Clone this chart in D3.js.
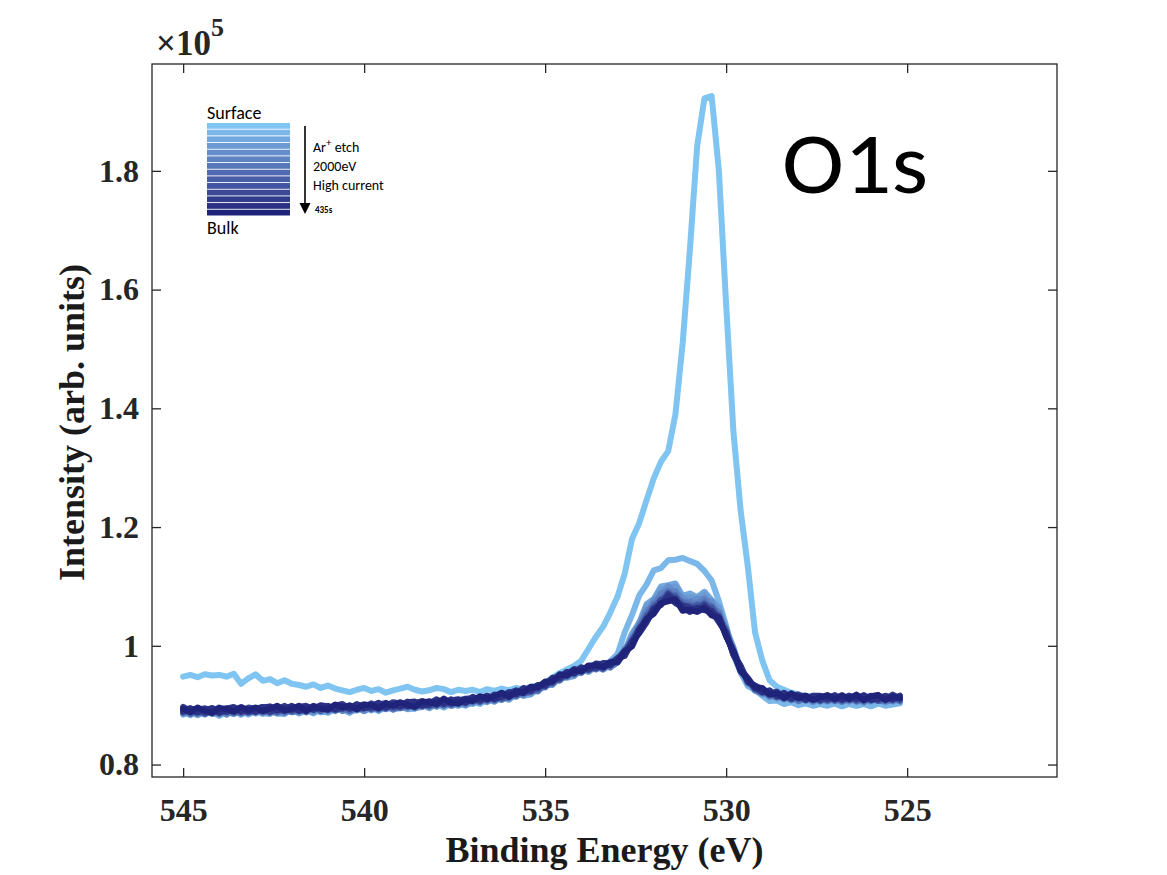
<!DOCTYPE html>
<html>
<head>
<meta charset="utf-8">
<script src="https://cdn.jsdelivr.net/npm/d3@7"></script>
<style>
body { margin: 0; background: #fff; }
</style>
</head>
<body>
<svg id="chart" width="1167" height="875"></svg>
<script>
// binding energy grid (eV)
var energy = [545.0,544.8,544.6,544.4,544.2,544.0,543.8,543.6,543.4,543.2,
543.0,542.8,542.6,542.4,542.2,542.0,541.8,541.6,541.4,541.2,
541.0,540.8,540.6,540.4,540.2,540.0,539.8,539.6,539.4,539.2,
539.0,538.8,538.6,538.4,538.2,538.0,537.8,537.6,537.4,537.2,
537.0,536.8,536.6,536.4,536.2,536.0,535.8,535.6,535.4,535.2,
535.0,534.8,534.6,534.4,534.2,534.0,533.8,533.6,533.4,533.2,
533.0,532.8,532.6,532.4,532.2,532.0,531.8,531.6,531.4,531.2,
531.0,530.8,530.6,530.4,530.2,530.0,529.8,529.6,529.4,529.2,
529.0,528.8,528.6,528.4,528.2,528.0,527.8,527.6,527.4,527.2,
527.0,526.8,526.6,526.4,526.2,526.0,525.8,525.6,525.4,525.2];

// intensities, in units of 100 counts (so 1000 = 1 x 10^5)
var s1 = [948,951,947,952,950,951,948,953,936,945,
952,941,944,937,942,936,934,931,935,929,
933,928,925,922,926,929,924,927,921,925,
928,931,926,923,925,929,927,922,926,924,
926,922,927,924,928,925,929,926,931,933,
938,946,954,960,966,975,995,1015,1032,1056,
1083,1122,1180,1207,1245,1282,1310,1328,1390,1510,
1668,1842,1922,1926,1800,1575,1362,1228,1133,1022,
975,942,931,926,921,918,914,916,913,915,
912,914,911,914,912,913,910,914,912,913];
var s2 = [884,889,883,888,888,882,889,885,890,884,
890,885,891,886,885,893,887,892,886,893,
887,894,893,887,896,890,896,890,898,892,
899,893,894,901,895,902,896,903,903,899,
906,902,911,906,913,909,919,916,918,929,
932,940,944,952,954,962,962,968,965,974,
986,1023,1052,1085,1103,1127,1131,1144,1145,1148,
1143,1138,1126,1110,1075,1034,985,955,932,926,
916,907,908,902,905,900,903,899,902,899,
903,898,902,899,902,898,903,899,901,903];
var s3 = [890,883,891,884,891,884,890,892,884,890,
892,887,885,893,886,893,886,892,895,888,
889,896,895,888,896,890,898,891,897,899,
899,894,901,901,895,902,898,905,899,905,
902,910,911,906,915,910,920,917,925,923,
935,934,947,946,949,960,956,965,960,968,
980,991,1021,1039,1070,1079,1100,1102,1105,1084,
1088,1082,1091,1077,1067,1029,997,959,940,924,
923,913,917,909,913,906,912,905,910,906,
911,905,912,905,911,905,911,904,912,906];
var s4 = [886,890,884,891,891,885,890,885,891,893,
886,894,892,887,888,895,894,888,895,890,
896,890,897,891,891,898,891,898,898,893,
895,902,895,897,904,897,906,899,901,908,
909,909,905,914,909,917,914,924,919,929,
930,942,941,952,950,961,957,965,967,963,
980,991,1017,1036,1066,1075,1094,1097,1100,1080,
1082,1077,1087,1072,1063,1026,997,959,941,925,
918,921,911,915,915,907,912,905,910,913,
906,911,913,906,911,907,913,905,913,906];
var s5 = [890,891,885,890,886,892,884,892,890,886,
893,887,891,886,894,892,888,894,888,896,
889,896,891,897,897,890,897,899,893,898,
901,894,901,902,897,905,900,904,907,900,
908,905,913,907,916,912,920,916,926,930,
935,935,947,947,957,955,963,966,960,970,
973,995,1010,1039,1055,1077,1083,1100,1089,1081,
1073,1080,1076,1075,1052,1030,988,966,936,930,
924,914,916,916,908,914,907,912,911,906,
913,910,906,912,904,912,907,912,906,911];
var s6 = [886,891,891,892,885,892,887,887,893,889,
893,888,894,890,894,888,890,896,891,897,
891,898,890,897,892,897,900,892,899,900,
895,897,903,897,905,905,899,907,901,908,
905,912,907,915,915,911,922,918,928,930,
930,943,943,954,951,961,959,967,962,971,
980,988,1013,1031,1059,1068,1088,1091,1092,1071,
1075,1071,1080,1065,1057,1021,994,960,942,925,
920,921,919,910,915,909,914,906,912,908,
913,905,912,914,906,913,914,906,908,914];
var s7 = [893,887,892,885,891,885,893,891,886,893,
888,895,887,894,887,894,895,888,896,891,
897,892,897,890,896,899,893,898,900,893,
899,903,895,903,903,899,906,899,908,903,
910,905,914,913,909,918,915,925,926,924,
937,936,949,948,957,954,965,960,967,964,
972,993,1005,1033,1049,1071,1077,1092,1081,1074,
1071,1065,1075,1062,1055,1020,992,958,943,926,
926,915,918,911,916,907,912,913,906,914,
907,912,914,906,911,914,907,907,914,908];
var s8 = [893,885,892,890,887,894,888,894,887,892,
895,890,888,895,893,889,897,891,896,897,
891,898,896,891,900,898,894,901,896,897,
902,897,904,903,898,902,908,901,907,909,
905,913,913,908,917,920,916,925,923,926,
937,938,949,948,959,956,965,962,968,969,
978,987,1011,1026,1051,1068,1075,1090,1081,1073,
1063,1070,1068,1067,1047,1026,986,965,938,932,
921,923,913,918,909,914,915,908,914,908,
913,914,908,914,907,913,907,914,913,908];
var s9 = [889,892,886,891,894,888,893,887,892,894,
888,893,895,888,894,896,890,894,898,890,
897,891,897,898,893,894,901,899,894,901,
895,902,903,899,905,907,900,905,909,903,
912,911,908,915,912,913,923,920,922,933,
931,943,942,954,954,963,960,967,961,971,
973,991,1003,1029,1051,1059,1079,1082,1085,1065,
1068,1062,1072,1059,1051,1018,992,958,943,927,
926,917,920,911,915,915,908,915,908,914,
915,907,913,909,914,907,914,912,908,915];
var s10 = [895,888,892,895,888,893,895,890,894,888,
891,897,889,895,897,890,895,897,892,897,
893,897,900,893,899,901,896,894,900,902,
904,898,903,905,899,905,903,909,902,908,
910,913,909,917,911,920,918,924,930,927,
939,937,949,950,960,957,966,963,970,967,
979,985,1008,1030,1043,1065,1073,1088,1077,1068,
1061,1068,1064,1064,1044,1024,985,964,939,933,
927,917,921,913,918,910,915,908,914,914,
908,914,910,915,909,916,909,913,916,908];
var s11 = [888,893,893,886,895,890,888,895,889,896,
894,889,896,894,890,899,892,891,899,894,
899,893,894,900,894,898,894,901,904,896,
898,906,898,901,907,900,908,902,908,911,
912,906,916,911,918,914,921,927,923,932,
933,944,944,956,954,964,959,967,963,973,
972,989,1009,1022,1047,1058,1077,1079,1081,1060,
1063,1059,1068,1054,1050,1018,989,957,944,928,
921,924,914,917,910,916,916,910,914,908,
915,909,916,908,914,914,908,915,909,915];
var s12 = [897,890,888,894,890,896,889,894,895,888,
894,897,889,892,899,892,897,899,892,897,
892,899,902,894,899,896,903,896,899,905,
903,898,903,907,901,908,902,910,905,907,
908,914,909,918,913,920,925,920,930,929,
940,939,951,951,961,958,966,962,971,971,
978,992,1002,1029,1042,1063,1069,1087,1076,1068,
1065,1059,1069,1056,1049,1016,991,960,946,928,
927,919,923,913,916,918,910,915,908,916,
911,917,909,915,913,910,917,908,918,911];
var s13 = [890,895,889,892,895,887,894,897,889,894,
889,896,898,891,895,898,890,897,894,900,
898,893,900,895,902,895,898,904,896,902,
898,905,906,899,902,910,903,908,910,904,
914,909,916,910,915,922,918,929,925,934,
933,946,946,956,953,963,961,970,969,967,
979,983,1007,1021,1039,1062,1069,1083,1072,1065,
1057,1064,1060,1059,1040,1022,985,966,939,933,
922,925,916,921,912,916,909,916,916,911,
917,909,916,911,917,909,911,916,910,916];
var s14 = [894,888,896,890,887,895,893,889,897,891,
896,890,894,899,891,894,899,890,898,894,
893,901,896,899,893,901,900,895,903,899,
905,900,897,906,905,902,911,904,903,910,
907,915,911,915,921,914,923,921,931,930,
939,940,952,950,959,957,967,967,964,972,
973,990,999,1025,1045,1054,1072,1075,1078,1059,
1061,1057,1064,1051,1047,1016,991,958,944,930,
929,918,920,912,920,912,916,909,913,917,
910,916,911,918,908,915,917,909,915,912];

var series = [s1, s2, s3, s4, s5, s6, s7, s8, s9, s10, s11, s12, s13, s14];

// surface -> bulk colour ramp
var colors = ["#80c4f1","#7bb7e9","#73a8de","#6c9bd4","#658fcc","#5e83c3","#5777ba",
              "#506bb1","#4960a8","#41549f","#3a4896","#323c8c","#2a3083","#1f2379"];

var xTicks = [545, 540, 535, 530, 525];
var yTicks = [800, 1000, 1200, 1400, 1600, 1800];

var svg = d3.select("#chart");
var plotLeft = 152, plotRight = 1057, plotTop = 64, plotBottom = 777;
var axisColor = "#262626";
var serif = "'Times New Roman', 'Liberation Serif', serif";
var sans = "Calibri, Carlito, 'Open Sans', sans-serif";

var x = d3.scaleLinear().domain([545.86, 520.86]).range([plotLeft, plotRight]);
var y = d3.scaleLinear().domain([779, 1980]).range([plotBottom, plotTop]);

// spectra
var line = d3.line()
	.x((d, i) => x(energy[i]))
	.y(d => y(d));

svg.append("g")
	.selectAll("path")
	.data(series)
	.enter()
	.append("path")
	.attr("d", line)
	.attr("fill", "none")
	.attr("stroke", (d, i) => colors[i])
	.attr("stroke-width", 6)
	.attr("stroke-linejoin", "round")
	.attr("stroke-linecap", "round");

// axes, ticks pointing inwards
var xAxis = svg.append("g")
	.attr("transform", "translate(0," + plotBottom + ")")
	.call(d3.axisBottom(x).tickValues(xTicks).tickSize(-9).tickFormat(d3.format("d")));
xAxis.selectAll("text").attr("y", 44).attr("dy", 0);

var yAxis = svg.append("g")
	.attr("transform", "translate(" + plotLeft + ",0)")
	.call(d3.axisLeft(y).tickValues(yTicks).tickSize(-9).tickPadding(13)
		.tickFormat(d => d3.format("~g")(d / 1000)));

svg.append("g")
	.attr("transform", "translate(0," + plotTop + ")")
	.call(d3.axisTop(x).tickValues(xTicks).tickSize(-9).tickFormat(""));
svg.append("g")
	.attr("transform", "translate(" + plotRight + ",0)")
	.call(d3.axisRight(y).tickValues(yTicks).tickSize(-9).tickFormat(""));

svg.selectAll(".domain").remove();
svg.selectAll(".tick line").attr("stroke", axisColor).attr("stroke-width", 1.3);
svg.selectAll(".tick text")
	.attr("fill", axisColor)
	.style("font-family", serif)
	.style("font-weight", "bold")
	.style("font-size", "32px");

svg.append("rect")
	.attr("x", plotLeft).attr("y", plotTop)
	.attr("width", plotRight - plotLeft).attr("height", plotBottom - plotTop)
	.attr("fill", "none")
	.attr("stroke", axisColor)
	.attr("stroke-width", 1.3);

// exponent
var expo = svg.append("text")
	.attr("x", 156).attr("y", 55)
	.attr("fill", axisColor)
	.style("font-family", serif)
	.style("font-weight", "bold")
	.style("font-size", "35px");
expo.append("tspan").text("\u00d710");
expo.append("tspan").attr("dy", -19).style("font-size", "26px").text("5");

// axis labels
svg.append("text")
	.attr("x", (plotLeft + plotRight) / 2).attr("y", 862)
	.attr("text-anchor", "middle")
	.attr("fill", "#1a1a1a")
	.style("font-family", serif)
	.style("font-weight", "bold")
	.style("font-size", "36px")
	.text("Binding Energy (eV)");

svg.append("text")
	.attr("transform", "translate(84," + ((plotTop + plotBottom) / 2 + 2) + ") rotate(-90)")
	.attr("text-anchor", "middle")
	.attr("fill", "#1a1a1a")
	.style("font-family", serif)
	.style("font-weight", "bold")
	.style("font-size", "36px")
	.text("Intensity (arb. units)");

// O1s label
svg.append("text")
	.attr("x", 782).attr("y", 193)
	.attr("textLength", 146)
	.attr("lengthAdjust", "spacingAndGlyphs")
	.style("font-family", sans)
	.style("font-size", "86px")
	.text("O1s");

// depth legend
var legend = svg.append("g");
var stripeTop = 123, stripePitch = 6.67;

legend.selectAll("rect")
	.data(colors)
	.enter()
	.append("rect")
	.attr("x", 207)
	.attr("y", (d, i) => stripeTop + i * stripePitch)
	.attr("width", 83)
	.attr("height", stripePitch - 0.9)
	.attr("fill", d => d);

legend.append("text").attr("x", 207).attr("y", 119)
	.style("font-family", sans).style("font-size", "18px").text("Surface");
legend.append("text").attr("x", 207).attr("y", 234)
	.style("font-family", sans).style("font-size", "18px").text("Bulk");

legend.append("line")
	.attr("x1", 305).attr("x2", 305)
	.attr("y1", 126).attr("y2", 205)
	.attr("stroke", "#000").attr("stroke-width", 1.6);
legend.append("path")
	.attr("d", "M299.5,203 L310.5,203 L305,214 Z")
	.attr("fill", "#000");

var ar = legend.append("text").attr("x", 313).attr("y", 152)
	.style("font-family", sans).style("font-size", "14px");
ar.append("tspan").text("Ar");
ar.append("tspan").attr("dy", -6).style("font-size", "11px").text("+");
ar.append("tspan").attr("dy", 6).text(" etch");

legend.append("text").attr("x", 313).attr("y", 171)
	.style("font-family", sans).style("font-size", "14px").text("2000eV");
legend.append("text").attr("x", 313).attr("y", 190)
	.style("font-family", sans).style("font-size", "14px").text("High current");
legend.append("text").attr("x", 315).attr("y", 213)
	.style("font-family", sans).style("font-size", "9px").style("font-weight", "bold").text("435s");
</script>
</body>
</html>
